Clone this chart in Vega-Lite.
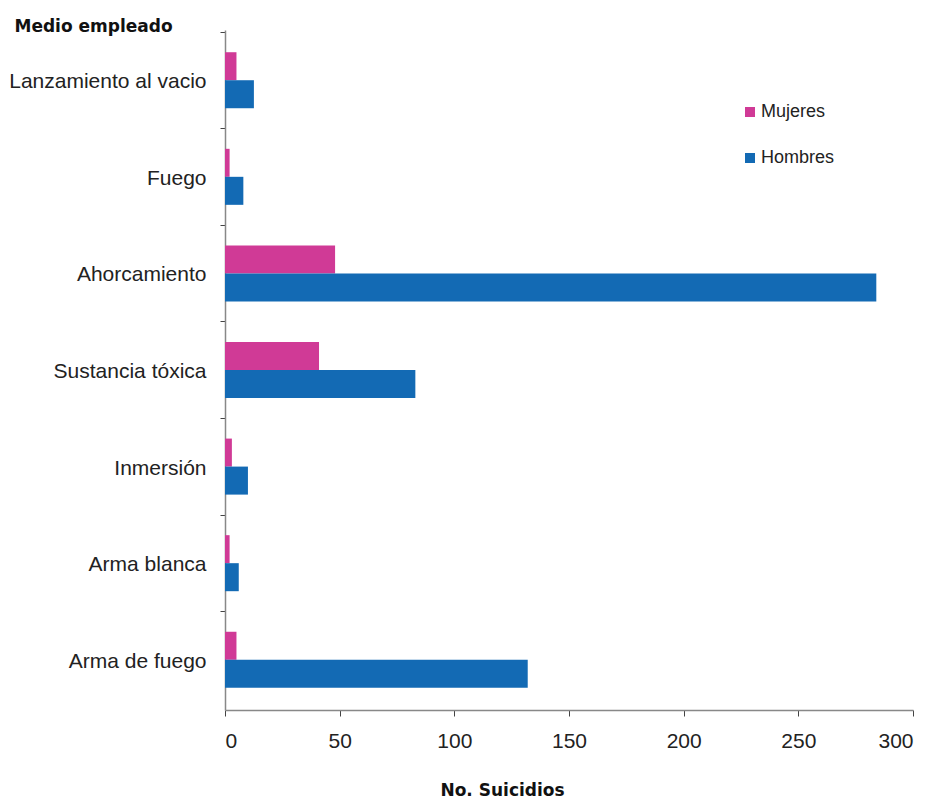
{
  "$schema": "https://vega.github.io/schema/vega-lite/v6.json",
  "autosize": {"type": "none"},
  "padding": {"left": 225, "top": 30, "right": 23, "bottom": 88},
  "width": 688,
  "height": 680,
  "background": "white",
  "config": {"view": {"stroke": null}, "font": "Liberation Sans"},
  "data": {
    "values": [
      {"medio": "Lanzamiento al vacio", "sexo": "Mujeres", "n": 5},
      {"medio": "Lanzamiento al vacio", "sexo": "Hombres", "n": 12.6},
      {"medio": "Fuego", "sexo": "Mujeres", "n": 2},
      {"medio": "Fuego", "sexo": "Hombres", "n": 8},
      {"medio": "Ahorcamiento", "sexo": "Mujeres", "n": 48},
      {"medio": "Ahorcamiento", "sexo": "Hombres", "n": 284},
      {"medio": "Sustancia tóxica", "sexo": "Mujeres", "n": 41},
      {"medio": "Sustancia tóxica", "sexo": "Hombres", "n": 83},
      {"medio": "Inmersión", "sexo": "Mujeres", "n": 3},
      {"medio": "Inmersión", "sexo": "Hombres", "n": 10},
      {"medio": "Arma blanca", "sexo": "Mujeres", "n": 2},
      {"medio": "Arma blanca", "sexo": "Hombres", "n": 6},
      {"medio": "Arma de fuego", "sexo": "Mujeres", "n": 5},
      {"medio": "Arma de fuego", "sexo": "Hombres", "n": 132}
    ]
  },
  "mark": {"type": "bar"},
  "encoding": {
    "y": {
      "field": "medio",
      "type": "nominal",
      "sort": null,
      "scale": {"paddingInner": 0.42, "paddingOuter": 0.23},
      "axis": {
        "title": "Medio empleado",
        "titleAngle": 0,
        "titleAlign": "left",
        "titleBaseline": "alphabetic",
        "titleX": -211,
        "titleY": 1,
        "titleFont": "DejaVu Sans",
        "titleFontSize": 17,
        "titleFontWeight": "bold",
        "titleColor": "#111",
        "labelFontSize": 21,
        "labelColor": "#222",
        "labelPadding": 14,
        "labelLimit": 0,
        "tickOffset": -48.57,
        "labelOffset": 50,
        "tickSize": 5,
        "tickColor": "#444",
        "domainColor": "#888",
        "domainWidth": 1.5
      }
    },
    "yOffset": {
      "field": "sexo",
      "type": "nominal",
      "sort": ["Mujeres", "Hombres"],
      "scale": {"paddingInner": 0, "paddingOuter": 0}
    },
    "x": {
      "field": "n",
      "type": "quantitative",
      "scale": {"domain": [0, 300], "nice": false},
      "axis": {
        "values": [0, 50, 100, 150, 200, 250, 300],
        "grid": false,
        "title": "No. Suicidios",
        "titleFont": "DejaVu Sans",
        "titleFontSize": 17,
        "titleFontWeight": "bold",
        "titleColor": "#111",
        "titleAnchor": "start",
        "titleAlign": "center",
        "titleX": 277,
        "titleY": 85,
        "titleBaseline": "alphabetic",
        "labelFontSize": 21,
        "labelColor": "#222",
        "labelPadding": 14,
        "tickSize": 6,
        "tickColor": "#444",
        "domainColor": "#888",
        "domainWidth": 1.5
      }
    },
    "color": {
      "field": "sexo",
      "type": "nominal",
      "sort": ["Mujeres", "Hombres"],
      "scale": {"domain": ["Mujeres", "Hombres"], "range": ["#D03A96", "#136AB4"]},
      "legend": {
        "title": null,
        "orient": "none",
        "legendX": 516,
        "legendY": 73,
        "symbolType": "square",
        "symbolSize": 100,
        "symbolStrokeWidth": 0,
        "labelFontSize": 18,
        "labelColor": "#222",
        "labelOffset": 2,
        "rowPadding": 28
      }
    }
  }
}
